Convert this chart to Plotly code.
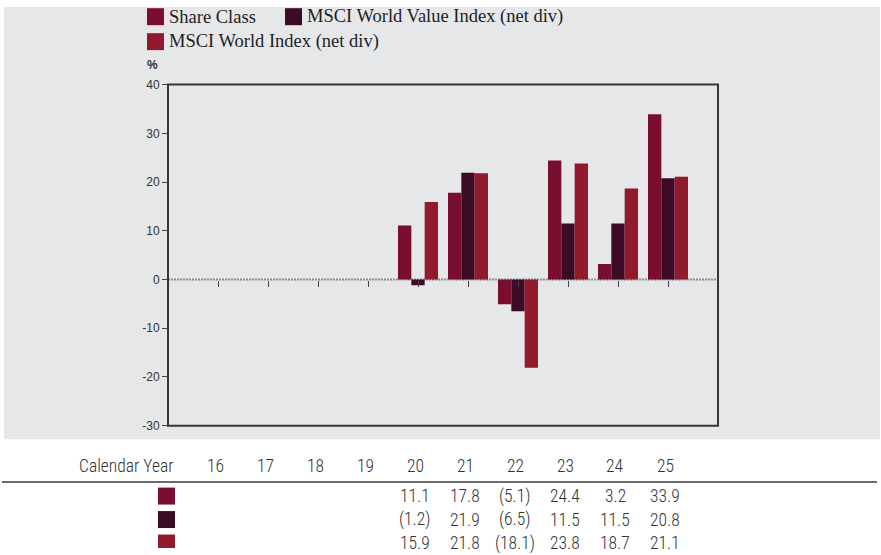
import plotly.graph_objects as go

years = ["16", "17", "18", "19", "20", "21", "22", "23", "24", "25"]
series_names = ["Share Class", "MSCI World Value Index (net div)", "MSCI World Index (net div)"]
share_class = [None, None, None, None, 11.1, 17.8, -5.1, 24.4, 3.2, 33.9]
value_index = [None, None, None, None, -1.2, 21.9, -6.5, 11.5, 11.5, 20.8]
world_index = [None, None, None, None, 15.9, 21.8, -18.1, 23.8, 18.7, 21.1]
colors = ["#7a0e2f", "#3c0b25", "#911a2d"]
y_ticks = [-30, -20, -10, 0, 10, 20, 30, 40]

W, H = 881, 555
# capture compensation (vertical)
VA, VS = 6.3, 0.976

def px(x):
    return x / W

def py(y):
    page_y = (y - VA) / VS
    return min(max(1 - page_y / H, 0), 1)

series = [share_class, value_index, world_index]

fig = go.Figure()
for name, vals, col in zip(series_names, series, colors):
    fig.add_trace(go.Bar(x=years, y=vals, name=name, marker=dict(color=col, line=dict(width=0)),
                         showlegend=False))

shapes = []
annotations = []
shapes.append(dict(type="rect", xref="paper", yref="paper", x0=px(4), x1=px(880), y0=py(439), y1=py(3),
                   fillcolor="#e6e7e9", line=dict(width=0), layer="below"))
shapes.append(dict(type="line", xref="paper", yref="y", x0=px(168), x1=px(718), y0=0, y1=0,
                   line=dict(color="#8c8c8c", width=2, dash="2px,1px"), layer="below"))
shapes.append(dict(type="rect", xref="paper", yref="paper", x0=px(168), x1=px(718), y0=py(425.5), y1=py(84),
                   line=dict(color="#363636", width=2), layer="above"))

leg_pos = [(147, 16), (285, 16), (147, 41)]
for (lx, ly), name, col in zip(leg_pos, series_names, colors):
    shapes.append(dict(type="rect", xref="paper", yref="paper", x0=px(lx), x1=px(lx + 17),
                       y0=py(ly + 8.5), y1=py(ly - 8.5), fillcolor=col, line=dict(width=0)))
    annotations.append(dict(text=name, xref="paper", yref="paper", x=px(lx + 20), y=py(ly),
                            xanchor="left", yanchor="middle", showarrow=False,
                            font=dict(family="Liberation Serif", size=18.5, color="#1e1e1e")))

annotations.append(dict(text="<b>%</b>", xref="paper", yref="paper", x=px(152), y=py(64),
                        xanchor="center", yanchor="middle", showarrow=False,
                        font=dict(family="Liberation Sans", size=12, color="#333")))

tfont = dict(family="Roboto Condensed, Liberation Sans Narrow, Roboto", size=17.5, color="#333", weight=300)
annotations.append(dict(text="Calendar Year", xref="paper", yref="paper", x=px(175), y=py(466),
                        xanchor="right", yanchor="middle", showarrow=False, font=tfont))
for i, yr in enumerate(years):
    annotations.append(dict(text=yr, xref="x", yref="paper", x=i, y=py(466), xshift=-3,
                            xanchor="center", yanchor="middle", showarrow=False, font=tfont))
shapes.append(dict(type="line", xref="paper", yref="paper", x0=px(2), x1=px(877), y0=py(482), y1=py(482),
                   line=dict(color="#6b6b6b", width=2)))

def fmt(v):
    return f"({abs(v):.1f})" if v < 0 else f"{v:.1f}"

row_y = [496, 519.5, 543]
for ry, vals, col in zip(row_y, series, colors):
    shapes.append(dict(type="rect", xref="paper", yref="paper", x0=px(158), x1=px(175),
                       y0=py(ry + 8.5), y1=py(ry - 8.5), fillcolor=col, line=dict(width=0)))
    for i, v in enumerate(vals):
        if v is None:
            continue
        annotations.append(dict(text=fmt(v), xref="x", yref="paper", x=i, y=py(ry), xshift=-3,
                                xanchor="center", yanchor="middle", showarrow=False, font=tfont))

y_top, y_bot = py(84), py(425.5)
zero_pos = y_bot + (y_top - y_bot) * 30 / 70

fig.update_layout(
    width=W, height=H,
    margin=dict(l=0, r=0, t=0, b=0),
    paper_bgcolor="white",
    plot_bgcolor="rgba(0,0,0,0)",
    barmode="group", bargap=0.2, bargroupgap=0,
    shapes=shapes, annotations=annotations,
    showlegend=False,
    xaxis=dict(domain=[px(168), px(718)], type="category", range=[-1, 10],
               anchor="free", position=zero_pos, showline=False, showgrid=False, zeroline=False,
               ticks="outside", ticklen=6, tickwidth=1, tickcolor="#444", showticklabels=False),
    yaxis=dict(domain=[y_bot, y_top], range=[-30, 40], tickvals=y_ticks,
               ticktext=[str(v) for v in y_ticks],
               showgrid=False, zeroline=False, showline=False,
               ticks="outside", ticklen=5, tickwidth=1, tickcolor="#444",
               tickfont=dict(family="Liberation Sans", size=12, color="#333")),
)

fig.write_html("out.html", config={"displayModeBar": False},
               post_script="document.body.style.margin='0';document.body.style.overflow='hidden';")
